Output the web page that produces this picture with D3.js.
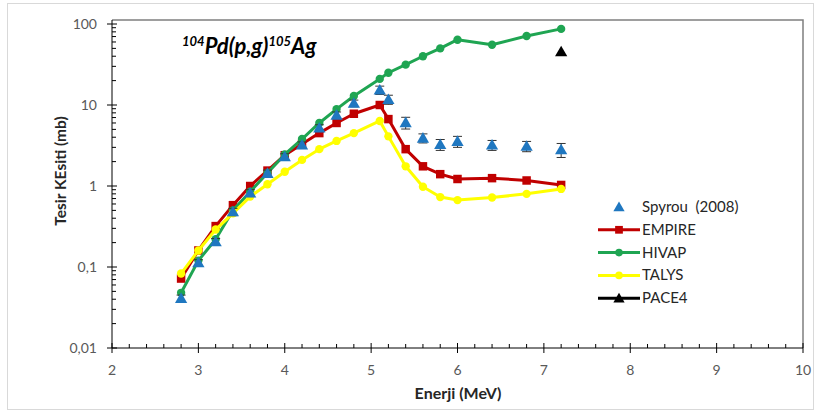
<!DOCTYPE html>
<html><head><meta charset="utf-8">
<script src="https://cdn.jsdelivr.net/npm/d3@7"></script>
<style>body{margin:0;background:#fff}svg{display:block}</style>
</head><body>
<svg id="c" width="816" height="416"></svg>
<script>
const energy = [2.8,3.0,3.2,3.4,3.6,3.8,4.0,4.2,4.4,4.6,4.8,5.1,5.2,5.4,5.6,5.8,6.0,6.4,6.8,7.2];
const spyrou = [0.041,0.113,0.205,0.48,0.82,1.43,2.3,3.2,5.2,7.5,10.5,15.3,11.7,6.05,3.9,3.25,3.55,3.2,3.1,2.8];
const spyrouErr = [0.004,0.01,0.02,0.05,0.08,0.14,0.2,0.3,0.5,0.7,1.0,1.8,1.5,1.0,0.5,0.5,0.55,0.45,0.45,0.55];
const empire = [0.072,0.16,0.32,0.58,1.0,1.55,2.4,3.3,4.5,6.0,7.8,10.0,6.7,2.85,1.75,1.4,1.22,1.25,1.17,1.03];
const hivap = [0.048,0.12,0.22,0.5,0.85,1.45,2.45,3.8,6.0,8.9,12.9,21,25,31.5,40,50,64,55.5,71,87];
const talys = [0.083,0.16,0.29,0.46,0.74,1.05,1.5,2.1,2.85,3.6,4.5,6.35,4.1,1.75,0.98,0.73,0.67,0.72,0.80,0.92];
const pace4Energy = [7.2];
const pace4 = [45.5];
const xTicks = [2,3,4,5,6,7,8,9,10];
const yTicks = [0.01,0.1,1,10,100];
const yTickLabels = ["0,01","0,1","1","10","100"];
const seriesNames = ["Spyrou  (2008)","EMPIRE","HIVAP","TALYS","PACE4"];

const FONT = "Lato, 'Open Sans', sans-serif";
const svg = d3.select("#c");
const x = d3.scaleLinear().domain([2,10]).range([112,803]);
const y = d3.scaleLog().domain([0.01,100]).range([348,24]);

// outer chart border
svg.append("rect").attr("x",7.5).attr("y",3.5).attr("width",806).attr("height",406)
  .attr("fill","#fff").attr("stroke","#d9d9d9").attr("stroke-width",1);

// plot frame top/right
svg.append("path").attr("d",`M${x(2)},20 H${x(10)} V${y(0.01)}`)
  .attr("fill","none").attr("stroke","#7f7f7f").attr("stroke-width",1.5);

// x axis
const gx = svg.append("g").attr("transform",`translate(0,${y(0.01)})`);
gx.append("line").attr("x1",x(2)).attr("x2",x(10)).attr("stroke","#000");
const xMinor = d3.range(2,10.001,0.2).filter(v=>Math.abs(v-Math.round(v))>1e-6);
gx.selectAll(".xm").data(xMinor).join("line").attr("x1",d=>x(d)).attr("x2",d=>x(d))
  .attr("y1",0).attr("y2",-4).attr("stroke","#000");
gx.selectAll(".xM").data(xTicks).join("line").attr("x1",d=>x(d)).attr("x2",d=>x(d))
  .attr("y1",-5).attr("y2",5).attr("stroke","#000");
gx.selectAll(".xl").data(xTicks).join("text").attr("x",d=>x(d)).attr("y",27)
  .attr("text-anchor","middle").attr("font-family",FONT).attr("font-size",14)
  .attr("fill","#595959").text(d=>d);

// y axis
const gy = svg.append("g").attr("transform",`translate(${x(2)},0)`);
gy.append("line").attr("y1",20).attr("y2",y(0.01)).attr("stroke","#000");
const yMinor = [];
[0.01,0.1,1,10].forEach(d=>{for(let k=2;k<=9;k++) yMinor.push(d*k);});
gy.selectAll(".ym").data(yMinor).join("line").attr("y1",d=>y(d)).attr("y2",d=>y(d))
  .attr("x1",0).attr("x2",4).attr("stroke","#000");
gy.selectAll(".yM").data(yTicks).join("line").attr("y1",d=>y(d)).attr("y2",d=>y(d))
  .attr("x1",-5).attr("x2",5).attr("stroke","#000");
gy.selectAll(".yl").data(yTicks).join("text").attr("x",-15).attr("y",d=>y(d)+5)
  .attr("text-anchor","end").attr("font-family",FONT).attr("font-size",14)
  .attr("fill","#595959").text((d,i)=>yTickLabels[i]);

// axis titles
svg.append("text").attr("x",458).attr("y",399).attr("text-anchor","middle")
  .attr("font-family",FONT).attr("font-weight","bold").attr("font-size",16)
  .attr("fill","#262626").text("Enerji (MeV)");
svg.append("text").attr("transform","translate(66,171) rotate(-90)").attr("text-anchor","middle")
  .attr("font-family",FONT).attr("font-weight","bold").attr("font-size",15.5)
  .attr("fill","#262626").text("Tesir KEsiti (mb)");

// chart title
const t = svg.append("text").attr("x",182).attr("y",54).attr("font-family",FONT)
  .attr("font-weight","bold").attr("font-style","italic").attr("fill","#000");
t.append("tspan").attr("font-size",13).attr("dy",-8).text("104");
t.append("tspan").attr("font-size",22).attr("dy",8).text("Pd(p,g)");
t.append("tspan").attr("font-size",13).attr("dy",-8).text("105");
t.append("tspan").attr("font-size",22).attr("dy",8).text("Ag");

const line = d3.line().x(d=>x(d[0])).y(d=>y(d[1]));
const sym = (type,size)=>d3.symbol().type(type).size(size)();
const colors = {sp:"#1f77c0", em:"#c00000", hv:"#1fa552", ta:"#ffff00", pa:"#000"};

function drawSeries(vals, color, type, size){
  const pts = energy.map((e,i)=>[e,vals[i]]);
  svg.append("path").datum(pts).attr("d",line).attr("fill","none")
    .attr("stroke",color).attr("stroke-width",3).attr("stroke-linejoin","round");
  svg.selectAll(null).data(pts).join("path")
    .attr("transform",d=>`translate(${x(d[0])},${y(d[1])})`)
    .attr("d",sym(type,size)).attr("fill",color);
}
drawSeries(empire, colors.em, d3.symbolSquare, 72);
drawSeries(hivap, colors.hv, d3.symbolCircle, 55);
drawSeries(talys, colors.ta, d3.symbolCircle, 55);

// Spyrou error bars + triangles
const sp = energy.map((e,i)=>({e, v:spyrou[i], err:spyrouErr[i]}));
const eb = svg.append("g").attr("stroke","#333").attr("stroke-width",1);
sp.forEach(d=>{
  const y1 = y(d.v+d.err), y2 = y(Math.max(d.v-d.err,1e-4)), xx = x(d.e);
  eb.append("line").attr("x1",xx).attr("x2",xx).attr("y1",y1).attr("y2",y2);
  eb.append("line").attr("x1",xx-4.5).attr("x2",xx+4.5).attr("y1",y1).attr("y2",y1);
  eb.append("line").attr("x1",xx-4.5).attr("x2",xx+4.5).attr("y1",y2).attr("y2",y2);
});
svg.selectAll(null).data(sp).join("path")
  .attr("transform",d=>`translate(${x(d.e)},${y(d.v)+1})`)
  .attr("d",sym(d3.symbolTriangle,65)).attr("fill",colors.sp);

// PACE4
svg.selectAll(null).data(pace4Energy.map((e,i)=>[e,pace4[i]])).join("path")
  .attr("transform",d=>`translate(${x(d[0])},${y(d[1])+1})`)
  .attr("d",sym(d3.symbolTriangle,65)).attr("fill",colors.pa);

// legend
const lg = svg.append("g");
const legendSpec = [
  {c:colors.sp, t:d3.symbolTriangle, s:55, line:false},
  {c:colors.em, t:d3.symbolSquare, s:60, line:true},
  {c:colors.hv, t:d3.symbolCircle, s:45, line:true},
  {c:colors.ta, t:d3.symbolCircle, s:45, line:true},
  {c:colors.pa, t:d3.symbolTriangle, s:55, line:true}
];
legendSpec.forEach((d,i)=>{
  const yy = 207 + i*22.8;
  if(d.line) lg.append("line").attr("x1",598).attr("x2",640).attr("y1",yy).attr("y2",yy)
    .attr("stroke",d.c).attr("stroke-width",3);
  lg.append("path").attr("transform",`translate(619,${yy+(d.t===d3.symbolTriangle?1:0)})`)
    .attr("d",sym(d.t,d.s)).attr("fill",d.c);
  lg.append("text").attr("x",642).attr("y",yy+5).attr("font-family",FONT).attr("font-size",15)
    .attr("fill","#262626").style("white-space","pre").text(seriesNames[i]);
});
</script>
</body></html>
